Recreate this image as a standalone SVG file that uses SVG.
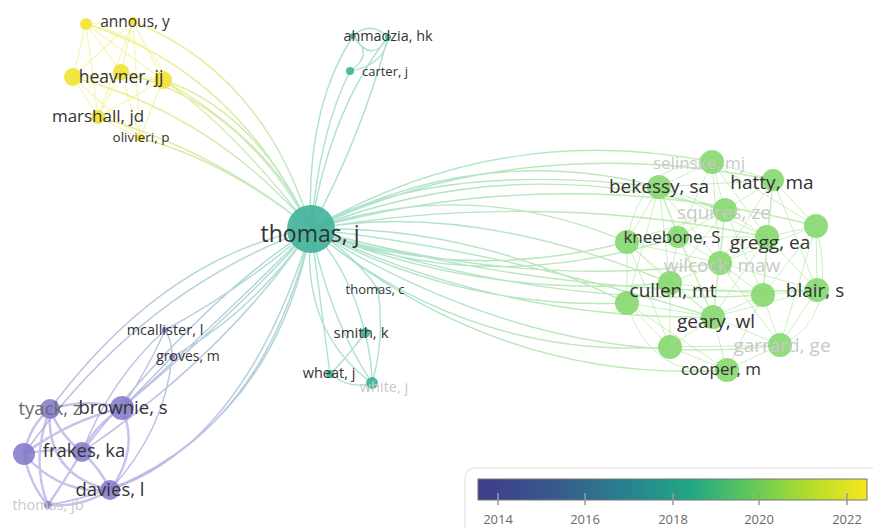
<svg xmlns="http://www.w3.org/2000/svg" width="873" height="528" viewBox="0 0 873 528">
<style>
text{font-family:"Open Sans","Noto Sans","Liberation Sans",sans-serif;text-anchor:middle;fill:#333}
.f{fill:#c9c9c9}
.m{fill:#6a6a6a}
.e path{fill:none}
.ey{stroke:url(#gy);stroke-width:1.4;opacity:.75}
.eg{stroke:url(#gg);stroke-width:1.4;opacity:.8}
.ep{stroke:url(#gp);stroke-width:1.5;opacity:.8}
.et{stroke:#9fdcc6;stroke-width:1.4;opacity:.85}
.gi{stroke:#b6e8a6;stroke-width:1;opacity:.7}
.yi{stroke:#eeee7a;stroke-width:1.1;opacity:.6}
.pi{stroke:#b9b3e6;stroke-width:2.4;opacity:.8}
.ng{fill:#86d870;opacity:.9}
.ny{fill:#f1e232;opacity:.9}
.np{fill:#7f77c9;opacity:.85}
.nt{fill:#3fb198;opacity:.9}
.tick{stroke:#999;stroke-width:1.5}
.L{font-size:19px}
.P{font-size:18.5px}
</style>
<defs>
<linearGradient id="gy" gradientUnits="userSpaceOnUse" x1="120" y1="70" x2="311" y2="229"><stop offset="0" stop-color="#ecec60"/><stop offset="1" stop-color="#9edcc4"/></linearGradient>
<linearGradient id="gg" gradientUnits="userSpaceOnUse" x1="311" y1="229" x2="680" y2="260"><stop offset="0" stop-color="#99d9c4"/><stop offset="1" stop-color="#b2e6a0"/></linearGradient>
<linearGradient id="gp" gradientUnits="userSpaceOnUse" x1="311" y1="229" x2="80" y2="450"><stop offset="0" stop-color="#9ed9c8"/><stop offset="1" stop-color="#aea8e2"/></linearGradient>
<linearGradient id="vir" x1="0" y1="0" x2="1" y2="0"><stop offset="0" stop-color="#3f3c8a"/><stop offset=".2" stop-color="#375a8c"/><stop offset=".4" stop-color="#27858e"/><stop offset=".55" stop-color="#22a884"/><stop offset=".72" stop-color="#6acb55"/><stop offset=".86" stop-color="#b8dd2a"/><stop offset="1" stop-color="#f8e51f"/></linearGradient>
</defs>
<rect width="873" height="528" fill="#fff"/>
<g id="connectors" class="e">
<path class="gi" d="M659 187L712 162M659 187L773 180M659 187L725 210M659 187L627 242M659 187L678 237M659 187L720 263M659 187L670 283M659 187L627 303M659 187L713 317M659 187L767 237M712 162L773 180M712 162L725 210M712 162L678 237M712 162L767 237M712 162L720 263M712 162L816 226M773 180L725 210M773 180L816 226M773 180L767 237M773 180L720 263M773 180L817 290M773 180L763 295M725 210L627 242M725 210L678 237M725 210L767 237M725 210L720 263M725 210L670 283M725 210L763 295M725 210L713 317M816 226L767 237M816 226L817 290M816 226L763 295M816 226L720 263M816 226L780 345M627 242L678 237M627 242L670 283M627 242L627 303M627 242L720 263M627 242L713 317M627 242L670 347M678 237L720 263M678 237L670 283M678 237L767 237M678 237L713 317M767 237L720 263M767 237L763 295M767 237L817 290M767 237L713 317M720 263L670 283M720 263L763 295M720 263L713 317M720 263L817 290M720 263L780 345M670 283L627 303M670 283L713 317M670 283L670 347M670 283L763 295M763 295L817 290M763 295L713 317M763 295L780 345M763 295L727 370M817 290L780 345M817 290L713 317M627 303L670 347M627 303L713 317M627 303L727 370M713 317L670 347M713 317L780 345M713 317L727 370M670 347L727 370M780 345L727 370M670 347L780 345M627 242Q640 160 712 162M816 226Q840 320 780 345M627 303Q650 380 727 370"/>
<path class="eg" d="M311 229Q500 120 712 162M311 229Q480 140 659 187M311 229Q520 130 773 180M311 229Q510 150 725 210M311 229Q470 175 627 242M311 229Q560 160 816 226M311 229Q540 190 767 237M311 229Q480 300 670 283M311 229Q460 310 627 303M311 229Q500 320 713 317M311 229Q470 360 670 347M311 229Q500 385 727 370M311 229Q520 290 720 263M311 229Q540 310 763 295M311 229Q560 300 817 290M311 229Q550 375 780 345M311 229Q480 300 678 237M311 229Q460 285 627 242M311 229Q470 225 627 303M311 229Q470 200 670 283M311 229Q430 160 659 187M311 229Q500 250 713 317"/>
<path class="yi" d="M86 24L133 21M86 24L73 77M86 24L121 72M86 24L163 80M86 24L98 117M133 21L73 77M133 21L121 72M133 21L163 80M133 21L98 117M133 21L140 138M73 77L121 72M73 77L163 80M73 77L98 117M121 72L163 80M121 72L98 117M121 72L140 138M163 80L98 117M163 80L140 138M98 117L140 138M73 77L140 138M86 24Q160 40 163 80"/>
<path class="ey" d="M311 229Q255 110 163 80M311 229Q230 125 163 80M311 229Q240 100 121 72M311 229Q215 115 73 77M311 229Q215 150 98 117M311 229Q225 160 140 138M311 229Q235 70 86 24M311 229Q265 75 133 21M311 229Q270 140 163 80"/>
<path class="pi" d="M50 409Q86 398 122 408M122 408Q95 425 82 452M122 408Q70 420 24 454M122 408Q140 450 110 490M50 409Q60 435 82 452M50 409Q30 425 24 454M50 409Q45 475 110 490M82 452Q52 448 24 454M82 452Q100 468 110 490M24 454Q60 495 110 490M24 454Q30 485 48 505M82 452Q65 480 48 505M50 409Q30 460 48 505M110 490Q80 508 48 505"/>
<path class="ep" d="M165 330Q150 365 122 408M172 357Q150 380 122 408M165 330Q172 340 172 357M165 330Q110 380 82 452M172 357Q165 430 110 490M311 229Q165 255 50 409M311 229Q140 290 24 454M311 229Q215 325 122 408M311 229Q245 305 122 408M311 229Q225 355 82 452M311 229Q275 420 110 490M311 229Q245 445 110 490M311 229Q255 470 48 505M311 229Q240 290 165 330M311 229Q250 315 172 357M311 229Q200 300 82 452"/>
<path class="et" d="M311 229Q305 110 353 36M311 229Q330 110 388 37M311 229Q320 130 350 71M311 229Q360 140 388 37M353 36Q370 20 388 37M353 36Q375 55 350 71M388 37Q385 65 350 71M353 36Q372 65 388 37M311 229Q350 270 365 333M311 229Q320 300 330 374M311 229Q330 320 372 383M311 229Q350 250 378 289M378 289Q385 340 372 383M365 333Q345 360 330 374M365 333Q372 360 372 383M330 374Q350 390 372 383M311 229Q300 330 372 383"/>
</g>
<g id="n-selinske"><circle class="ng" cx="712" cy="162" r="12"/><text class="f" x="699" y="169" font-size="17">selinske, mj</text></g>
<g id="n-squires"><circle class="ng" cx="725" cy="210" r="12"/><text class="f L" x="724" y="219">squires, ze</text></g>
<g id="n-wilcock"><circle class="ng" cx="720" cy="263" r="12"/><text class="f" x="722" y="272" font-size="19">wilcock, maw</text></g>
<g id="n-garrard"><circle class="ng" cx="780" cy="345" r="12"/><text class="f L" x="782" y="352">garrard, ge</text></g>
<g id="n-g5"><circle class="ng" cx="816" cy="226" r="12"/></g>
<g id="n-g11"><circle class="ng" cx="763" cy="295" r="12"/></g>
<g id="n-g13"><circle class="ng" cx="627" cy="303" r="12"/></g>
<g id="n-g15"><circle class="ng" cx="670" cy="347" r="12"/></g>
<g id="n-bekessy"><circle class="ng" cx="659" cy="187" r="12"/><text class="L" x="659" y="193">bekessy, sa</text></g>
<g id="n-hatty"><circle class="ng" cx="773" cy="180" r="11"/><text class="L" x="772" y="189">hatty, ma</text></g>
<g id="n-kneebone"><circle class="ng" cx="627" cy="242" r="12"/><circle class="ng" cx="678" cy="237" r="11"/><text x="672" y="243" font-size="17">kneebone, S</text></g>
<g id="n-gregg"><circle class="ng" cx="767" cy="237" r="12"/><text class="L" x="770" y="249">gregg, ea</text></g>
<g id="n-cullen"><circle class="ng" cx="670" cy="283" r="12"/><text class="L" x="673" y="297">cullen, mt</text></g>
<g id="n-blair"><circle class="ng" cx="817" cy="290" r="12"/><text class="L" x="815" y="297">blair, s</text></g>
<g id="n-geary"><circle class="ng" cx="713" cy="317" r="12"/><text class="L" x="716" y="328">geary, wl</text></g>
<g id="n-cooper"><circle class="ng" cx="727" cy="370" r="12"/><text x="721" y="375" font-size="17">cooper, m</text></g>
<g id="n-y1"><circle class="ny" cx="86" cy="24" r="6"/></g>
<g id="n-annous"><circle class="ny" cx="133" cy="21" r="4"/><text x="135" y="27" font-size="15.5">annous, y</text></g>
<g id="n-heavner"><circle class="ny" cx="73" cy="77" r="9"/><circle class="ny" cx="121" cy="72" r="8"/><circle class="ny" cx="163" cy="80" r="9"/><text x="121" y="83" font-size="17.5">heavner, jj</text></g>
<g id="n-marshall"><circle class="ny" cx="98" cy="117" r="7"/><text x="98" y="122" font-size="17">marshall, jd</text></g>
<g id="n-olivieri"><circle class="ny" cx="140" cy="138" r="4"/><text x="141" y="142" font-size="13.5">olivieri, p</text></g>
<g id="n-thomas-j"><circle class="nt" cx="311" cy="229" r="24"/><text x="310" y="242" font-size="23">thomas, j</text></g>
<g id="n-ahmadzia"><circle class="nt" cx="353" cy="36" r="3"/><circle class="nt" cx="388" cy="37" r="3"/><text x="388" y="41" font-size="14.4">ahmadzia, hk</text></g>
<g id="n-carter"><circle class="nt" cx="350" cy="71" r="4"/><text x="385" y="76" font-size="13">carter, j</text></g>
<g id="n-thomas-c"><circle class="nt" cx="378" cy="289" r="2"/><text x="375" y="294" font-size="13">thomas, c</text></g>
<g id="n-smith"><circle class="nt" cx="365" cy="333" r="5"/><text x="361" y="338" font-size="15">smith, k</text></g>
<g id="n-wheat"><circle class="nt" cx="330" cy="374" r="4"/><text x="329" y="378" font-size="14.5">wheat, j</text></g>
<g id="n-white"><circle class="nt" cx="372" cy="383" r="6"/><text class="f" x="384" y="392" font-size="14.5">white, j</text></g>
<g id="n-mcallister"><circle class="np" cx="165" cy="330" r="3"/><text x="165" y="335" font-size="14.5">mcallister, l</text></g>
<g id="n-groves"><circle class="np" cx="172" cy="357" r="3"/><text x="188" y="361" font-size="14">groves, m</text></g>
<g id="n-p6"><circle class="np" cx="24" cy="454" r="11"/></g>
<g id="n-thomas-jb"><circle class="np" cx="48" cy="505" r="4"/><text class="f" x="48" y="510" font-size="14.5">thomas, jb</text></g>
<g id="n-tyack"><circle class="np" cx="50" cy="409" r="10"/><text class="m P" x="50" y="415">tyack, z</text></g>
<g id="n-brownie"><circle class="np" cx="122" cy="408" r="12"/><text class="P" x="123" y="414">brownie, s</text></g>
<g id="n-frakes"><circle class="np" cx="82" cy="452" r="10"/><text class="P" x="84" y="457">frakes, ka</text></g>
<g id="n-davies"><circle class="np" cx="110" cy="490" r="10"/><text class="P" x="110" y="496">davies, l</text></g>
<g id="legend">
<rect x="465" y="468" width="420" height="72" rx="10" fill="#fff" stroke="#ddd"/>
<rect x="478" y="479" width="389" height="21" fill="url(#vir)" stroke="#777"/>
<path class="tick" d="M498 493V505M585 493V505M673 493V505M759 493V505M847 493V505"/>
<text x="498" y="524" font-size="13" class="m">2014</text>
<text x="585" y="524" font-size="13" class="m">2016</text>
<text x="673" y="524" font-size="13" class="m">2018</text>
<text x="759" y="524" font-size="13" class="m">2020</text>
<text x="847" y="524" font-size="13" class="m">2022</text>
</g>
</svg>
